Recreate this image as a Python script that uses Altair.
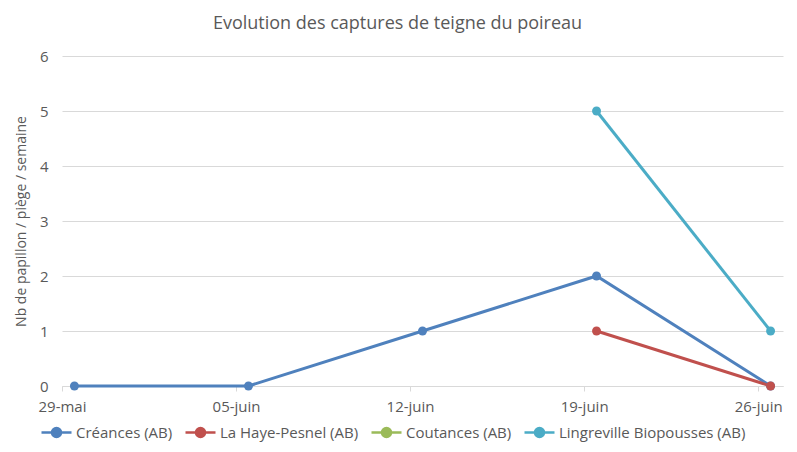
import altair as alt
import pandas as pd

# ---- data ----
dates = ["2020-05-29", "2020-06-05", "2020-06-12", "2020-06-19", "2020-06-26"]
tick_labels = ["29-mai", "05-juin", "12-juin", "19-juin", "26-juin"]
series = ["Créances (AB)", "La Haye-Pesnel (AB)", "Coutances (AB)", "Lingreville Biopousses (AB)"]
colors = ["#4F81BD", "#C0504D", "#9BBB59", "#4BACC6"]
creances = [0, 0, 1, 2, 0]
la_haye = [None, None, None, 1, 0]
coutances = [None, None, None, None, None]
lingreville = [None, None, None, 5, 1]
y_ticks = [0, 1, 2, 3, 4, 5, 6]

values = [creances, la_haye, coutances, lingreville]
rows = []
for name, vals in zip(series, values):
    for d, v in zip(dates, vals):
        if v is not None:
            # Excel date axis: points sit in the middle of the day slot
            rows.append({"date": d + "T12:00:00", "serie": name, "val": v})
df = pd.DataFrame(rows)

label_map = "{" + ",".join(f"'{d}':'{l}'" for d, l in zip(dates, tick_labels)) + "}"
label_expr = f"{label_map}[timeFormat(datum.value, '%Y-%m-%d')]"

def dt(s):
    y, m, d = (int(p) for p in s.split("-"))
    return alt.DateTime(year=y, month=m, date=d)

tick_values = [dt(d) for d in dates]
domain_end = alt.DateTime(year=2020, month=6, date=27)

text_color = "#595959"
font = "Open Sans"

legend_path = "M-1,0L1,0M-0.3,0A0.3,0.3,0,1,0,0.3,0A0.3,0.3,0,1,0,-0.3,0Z"

x_enc = alt.X(
    "date:T",
    scale=alt.Scale(domain=[tick_values[0], domain_end]),
    axis=alt.Axis(
        values=tick_values,
        labelExpr=label_expr,
        title=None,
        grid=False,
        domainColor="#D9D9D9",
        tickColor="#D9D9D9",
        tickSize=5,
        labelPadding=8,
        labelFontSize=15,
        labelColor=text_color,
        labelFont=font,
        labelFlush=False,
    ),
)
y_enc = alt.Y(
    "val:Q",
    scale=alt.Scale(domain=[0, 6]),
    axis=alt.Axis(
        values=y_ticks,
        title="Nb de papillon / piège / semaine",
        titleFontSize=14,
        titleFontWeight="normal",
        titleColor=text_color,
        titleFont=font,
        titlePadding=11,
        labelFontSize=15,
        labelColor=text_color,
        labelFont=font,
        labelPadding=14,
        domain=False,
        ticks=False,
        gridColor="#D9D9D9",
    ),
)
color_enc = alt.Color(
    "serie:N",
    scale=alt.Scale(domain=series, range=colors),
    sort=series,
    legend=alt.Legend(
        title=None,
        orient="none",
        direction="horizontal",
        legendX=-22,
        legendY=360,
        symbolType=legend_path,
        symbolSize=900,
        symbolStrokeWidth=2.5,
        labelFontSize=15,
        labelColor=text_color,
        labelFont=font,
        labelOffset=3,
        labelLimit=0,
        columnPadding=7,
    ),
)

lines = alt.Chart(df).mark_line(strokeWidth=3).encode(x=x_enc, y=y_enc, color=color_enc, detail="serie:N")
points = alt.Chart(df).mark_point(filled=True, size=80, opacity=1).encode(x=x_enc, y=y_enc, color=color_enc)

chart = (
    alt.layer(lines, points)
    .properties(
        width=721,
        height=330,
        autosize=alt.AutoSizeParams(type="none"),
        padding={"left": 54, "top": 48, "right": 6, "bottom": 58},
        title=alt.TitleParams(
            "Evolution des captures de teigne du poireau",
            fontSize=18,
            fontWeight="normal",
            color=text_color,
            font=font,
            anchor="middle",
            dx=-25,
            offset=16,
        ),
    )
    .configure_view(stroke=None)
)

chart.save("out.html", embed_options={"renderer": "svg", "actions": False})
